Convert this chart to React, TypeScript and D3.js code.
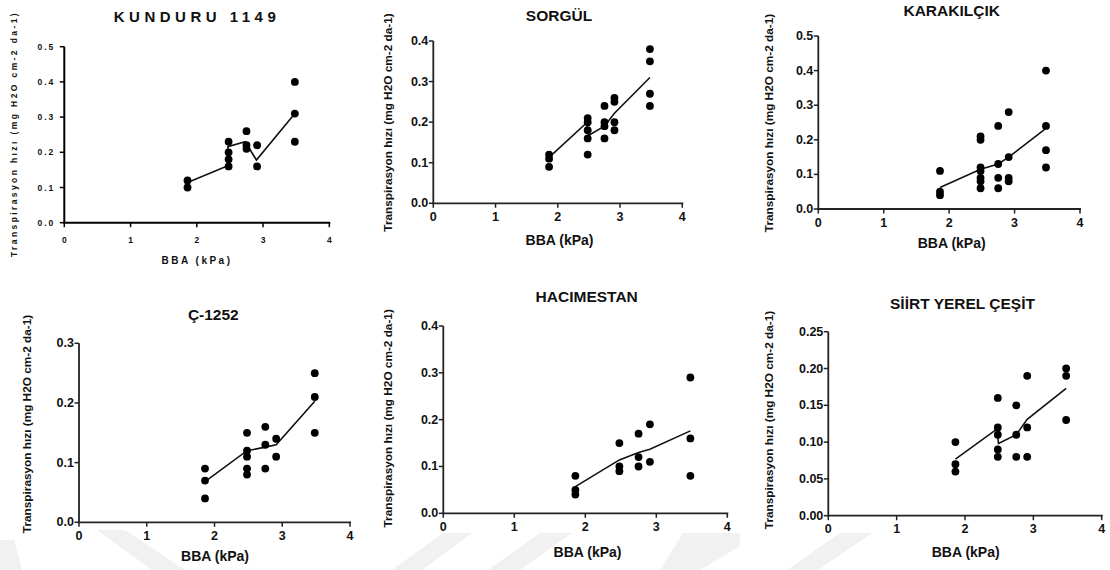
import React from 'react';
import * as d3 from 'd3';

const W = 1110;
const H = 570;

const xTicks = [0, 1, 2, 3, 4];
const bbaLevels = [1.86, 2.48, 2.75, 2.91, 3.48];
const xLabel = 'BBA (kPa)';
const yLabel = 'Transpirasyon hızı (mg H2O cm-2 da-1)';

const titles = ['KUNDURU 1149', 'SORGÜL', 'KARAKILÇIK', 'Ç-1252', 'HACIMESTAN', 'SİİRT YEREL ÇEŞİT'];

// observed values per BBA level
const kunduruY = [[0.12, 0.10], [0.23, 0.20, 0.18, 0.16], [0.26, 0.22, 0.21], [0.22, 0.16], [0.40, 0.31, 0.23]];
const sorgulY = [[0.12, 0.11, 0.09], [0.21, 0.20, 0.18, 0.16, 0.12], [0.24, 0.20, 0.19, 0.16], [0.26, 0.25, 0.20, 0.18], [0.38, 0.35, 0.27, 0.24]];
const karakilcikY = [[0.11, 0.05, 0.04], [0.21, 0.20, 0.12, 0.11, 0.09, 0.08, 0.06], [0.24, 0.13, 0.09, 0.06], [0.28, 0.15, 0.09, 0.08], [0.40, 0.24, 0.17, 0.12]];
const c1252Y = [[0.09, 0.07, 0.04], [0.15, 0.12, 0.11, 0.09, 0.08], [0.16, 0.13, 0.09], [0.14, 0.11], [0.25, 0.21, 0.15]];
const hacimestanY = [[0.08, 0.05, 0.04], [0.15, 0.10, 0.09], [0.17, 0.12, 0.10], [0.19, 0.11], [0.29, 0.16, 0.08]];
const siirtY = [[0.10, 0.07, 0.06], [0.16, 0.12, 0.11, 0.09, 0.08], [0.15, 0.11, 0.08], [0.19, 0.12, 0.08], [0.20, 0.19, 0.13]];

// fitted lines
const kunduruLineX = [1.86, 2.47, 2.47, 2.73, 2.9, 3.48];
const kunduruLineY = [0.114, 0.162, 0.216, 0.23, 0.178, 0.31];
const sorgulLineX = [1.86, 2.46, 2.5, 2.75, 2.91, 3.48];
const sorgulLineY = [0.113, 0.198, 0.168, 0.19, 0.222, 0.31];
const karakilcikLineX = [1.86, 2.48, 2.75, 2.91, 3.48];
const karakilcikLineY = [0.062, 0.115, 0.13, 0.15, 0.233];
const c1252LineX = [1.86, 2.48, 2.75, 2.91, 3.48];
const c1252LineY = [0.068, 0.12, 0.126, 0.13, 0.203];
const hacimestanLineX = [1.86, 2.48, 2.75, 2.91, 3.48];
const hacimestanLineY = [0.057, 0.114, 0.13, 0.137, 0.176];
const siirtLineX = [1.86, 2.47, 2.49, 2.75, 2.91, 3.48];
const siirtLineY = [0.077, 0.118, 0.098, 0.11, 0.131, 0.173];

const yMaxes = [0.5, 0.4, 0.5, 0.3, 0.4, 0.25];
const ySteps = [0.1, 0.1, 0.1, 0.1, 0.1, 0.05];
const yFormats = ['.1f', '.1f', '.1f', '.1f', '.1f', '.2f'];

const pointsSets = [kunduruY, sorgulY, karakilcikY, c1252Y, hacimestanY, siirtY];
const lineXs = [kunduruLineX, sorgulLineX, karakilcikLineX, c1252LineX, hacimestanLineX, siirtLineX];
const lineYs = [kunduruLineY, sorgulLineY, karakilcikLineY, c1252LineY, hacimestanLineY, siirtLineY];

// layout (pixel geometry of each panel)
const layouts = [
  { x0: 64.3, x4: 329.3, y0: 222.7, yTop: 46.7, title: [197, 16], yl: [14, 134], xl: [197, 260], special: true },
  { x0: 433.3, x4: 682.3, y0: 203.3, yTop: 41, title: [559, 15], yl: [388.3, 122.5], xl: [559.5, 240], special: false },
  { x0: 818.3, x4: 1080, y0: 209, yTop: 36, title: [951.7, 10.5], yl: [769.3, 123], xl: [951.7, 242.7], special: false },
  { x0: 79, x4: 350, y0: 522.3, yTop: 343.3, title: [213.3, 314.7], yl: [27.3, 424], xl: [215, 555.7], special: false },
  { x0: 443.3, x4: 727.3, y0: 513.3, yTop: 326, title: [586.7, 296.7], yl: [388.3, 418.3], xl: [587.5, 551.7], special: false },
  { x0: 828.3, x4: 1101.7, y0: 515.7, yTop: 331.7, title: [962.5, 303.3], yl: [769.3, 420], xl: [965.7, 552.3], special: false },
];

const watermarks: [number, number][][] = [
  [[97, 530], [125, 530], [185, 570], [152, 570]],
  [[0, 540], [14, 540], [22, 570], [0, 570]],
  [[443, 533], [472, 533], [422, 570], [392, 570]],
  [[540, 533], [572, 533], [520, 570], [488, 570]],
  [[683, 533], [740, 533], [740, 546], [700, 570], [660, 570]],
  [[840, 533], [872, 533], [818, 570], [787, 570]],
];

const FONT = '"Liberation Sans", Arial, Helvetica, sans-serif';

function Panel({ i }: { i: number }) {
  const L = layouts[i];
  const x = d3.scaleLinear().domain([0, 4]).range([L.x0, L.x4]);
  const y = d3.scaleLinear().domain([0, yMaxes[i]]).range([L.y0, L.yTop]);
  const yTicks = d3.range(0, yMaxes[i] + ySteps[i] / 2, ySteps[i]);
  const fmt = d3.format(yFormats[i]);
  const pts: [number, number][] = [];
  pointsSets[i].forEach((vals, k) => vals.forEach((v) => pts.push([bbaLevels[k], v])));
  const lineData: [number, number][] = lineXs[i].map((lx, k) => [lx, lineYs[i][k]]);
  const line = d3.line<[number, number]>().x((d) => x(d[0])).y((d) => y(d[1]));

  const sp = L.special;
  const tickFs = sp ? 8.5 : 12.5;
  const tickLs = sp ? 2 : 0;
  const axisColor = sp ? '#000' : '#222';
  const axisW = sp ? 2 : 1.8;

  return (
    <g>
      <line x1={L.x0} y1={L.y0} x2={L.x0} y2={L.yTop} stroke={axisColor} strokeWidth={axisW} />
      <line x1={L.x0 - 1} y1={L.y0} x2={L.x4 + 1} y2={L.y0} stroke={axisColor} strokeWidth={axisW} />
      {yTicks.map((t) => (
        <g key={'y' + t}>
          <line x1={L.x0 - 4.5} x2={L.x0} y1={y(t)} y2={y(t)} stroke={axisColor} strokeWidth={1.5} />
          <text x={L.x0 - 5 - (sp ? 4 : 0)} y={y(t)} textAnchor="end" dominantBaseline="central"
            fontSize={tickFs} fontWeight="bold" letterSpacing={tickLs} fill="#111">{fmt(t)}</text>
        </g>
      ))}
      {xTicks.map((t) => (
        <g key={'x' + t}>
          <line x1={x(t)} x2={x(t)} y1={L.y0} y2={L.y0 + 4.5} stroke={axisColor} strokeWidth={1.5} />
          <text x={x(t) + (sp ? 1 : 0)} y={L.y0 + (sp ? 17.5 : 13.5)} textAnchor="middle" dominantBaseline="central"
            fontSize={tickFs} fontWeight="bold" letterSpacing={tickLs} fill="#111">{t}</text>
        </g>
      ))}
      <path d={line(lineData) || ''} fill="none" stroke="#111" strokeWidth={1.6} />
      {pts.map((d, k) => (
        <circle key={k} cx={x(d[0])} cy={y(d[1])} r={3.9} fill="#000" />
      ))}
      <text x={L.title[0]} y={L.title[1]} textAnchor="middle" dominantBaseline="central"
        fontSize={sp ? 15 : 15.5} fontWeight="bold" letterSpacing={sp ? 4.5 : 0} fill="#111">{titles[i]}</text>
      <text transform={`translate(${L.yl[0]},${L.yl[1]}) rotate(-90)`} textAnchor="middle" dominantBaseline="central"
        fontSize={sp ? 8.5 : 11.8} fontWeight="bold" letterSpacing={sp ? 2.4 : 0} fill="#111">{yLabel}</text>
      <text x={L.xl[0]} y={L.xl[1]} textAnchor="middle" dominantBaseline="central"
        fontSize={sp ? 10 : 14} fontWeight="bold" letterSpacing={sp ? 2.5 : 0} fill="#111">{xLabel}</text>
    </g>
  );
}

export default function App() {
  return (
    <svg width={W} height={H} style={{ position: 'absolute', left: 0, top: 0, background: '#fff' }}
      fontFamily={FONT}>
      <rect width={W} height={H} fill="#fff" />
      {watermarks.map((poly, k) => (
        <polygon key={k} points={poly.map((p) => p.join(',')).join(' ')} fill="#f1f1f1" />
      ))}
      {layouts.map((_, i) => (
        <Panel key={i} i={i} />
      ))}
    </svg>
  );
}
